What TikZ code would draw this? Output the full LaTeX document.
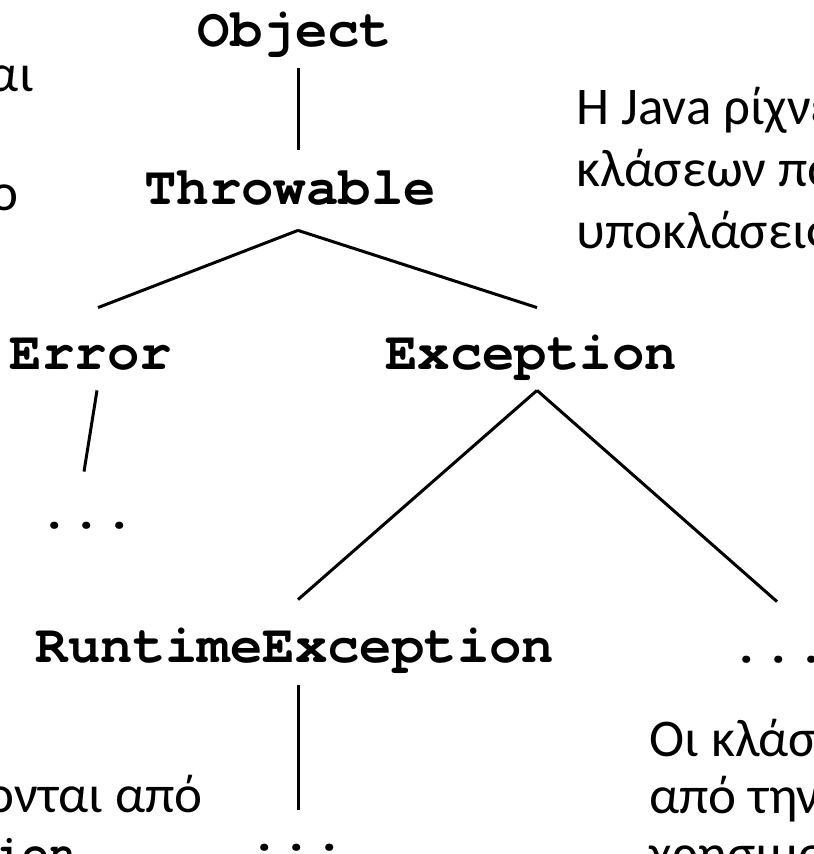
\documentclass[tikz,border=0pt]{standalone}
\usepackage{fontspec}
\setmainfont{Carlito}
\newfontfamily\codefont{TeX Gyre Cursor}
\usepackage{tikz}
\usetikzlibrary{positioning}
\tikzset{cls/.style={font=\fontsize{27}{30}\selectfont\codefont\bfseries,inner sep=0pt,anchor=base,text height=15.5pt,text depth=0pt},
  note/.style={font=\fontsize{26.5}{31}\selectfont,inner sep=0pt},
  link/.style={line width=1.5pt}}

\begin{document}
\begin{tikzpicture}[x=0.5pt,y=-0.5pt]
    \useasboundingbox (0,0) rectangle (813,854);
    \clip (0,0) rectangle (813,854);

    \node[cls] (obj) at (295,47) {Object};
    \node[cls] (thr) at (290,205) {Throwable};
    \node[cls] (err) at (91,370) {Error};
    \node[cls] (exc) at (531,370) {Exception};
    \node[cls] (errmore) at (87,528) {...};
    \node[cls] (rte) at (295,662) {RuntimeException};
    \node[cls] (excmore) at (779,662) {...};
    \node[cls] (rtemore) at (297,850) {...};

    \draw[link] ([shift={(3,21)}]obj.south) -- ([shift={(8,-24)}]thr.north);
    \draw[link] ([shift={(8,25)}]thr.south) -- ([shift={(7,-31)}]err.north);
    \draw[link] ([shift={(8,25)}]thr.south) -- ([shift={(6,-31)}]exc.north);
    \draw[link] ([shift={(6,20)}]err.south) -- ([shift={(-3,-25)}]errmore.north);
    \draw[link] ([shift={(6,20)}]exc.south) -- ([shift={(3,-31)}]rte.north);
    \draw[link] ([shift={(6,20)}]exc.south) -- ([shift={(-2,-29)}]excmore.north);
    \draw[link] ([shift={(3,23)}]rte.south) -- ([shift={(1,-9)}]rtemore.north);

    \node[note,anchor=base east] (pre1) at (34,92) {αι};
    \node[note,anchor=base east] (pre2) at (19,211) {ο};

    \foreach \t [count=\i from 0] in {Η Java ρίχνει, κλάσεων που, υποκλάσεις}
        \node[note,anchor=base west] (why\i) at (576,{125+62*\i}) {\t};

    \foreach \t [count=\i from 0] in {Οι κλάσεις, από την, χρησιμοποιούνται}
        \node[note,anchor=base west] (use\i) at (649,{756+57.5*\i}) {\t};

    \node[note,anchor=base east] (post1) at (203,812) {ονται από};
    \node[note,anchor=base east,font=\fontsize{22}{28}\selectfont\codefont\bfseries] (post2) at (76,866) {ion};
\end{tikzpicture}
\end{document}
